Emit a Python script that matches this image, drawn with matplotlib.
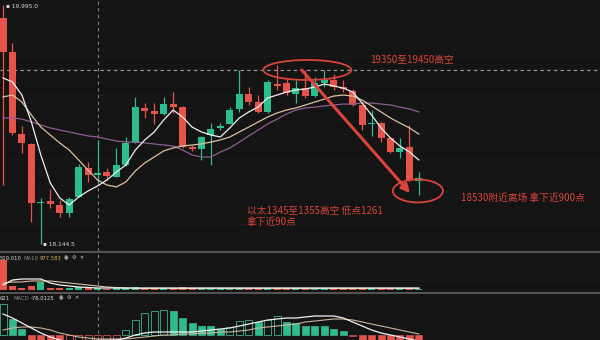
import numpy as np
import matplotlib
matplotlib.use("Agg")
import matplotlib.pyplot as plt
from matplotlib.patches import Ellipse
from matplotlib.lines import Line2D

# ------------------------------------------------------------
# data (price units)
# ------------------------------------------------------------
opens = [19894, 19631, 18996, 18919, 18462, 18477, 18446, 18384, 18508, 18733,
         18679, 18702, 18663, 18756, 18927, 19198, 19174, 19151, 19228, 19205,
         18896, 18880, 18988, 19043, 19074, 19190, 19306, 19244, 19167, 19383,
         19391, 19306, 19352, 19290, 19391, 19414, 19360, 19329, 19221, 19074,
         19081, 18965, 18857, 18896, 18632]
closes = [19631, 19004, 18927, 18462, 18470, 18454, 18384, 18493, 18741, 18679,
          18694, 18671, 18756, 18927, 19205, 19174, 19151, 19228, 19205, 18896,
          18880, 18973, 19035, 19058, 19182, 19306, 19244, 19167, 19399, 19368,
          19314, 19352, 19290, 19391, 19414, 19360, 19345, 19221, 19066, 19081,
          18965, 18857, 18888, 18640, 18656]
highs = [19995, 19701, 19058, 18927, 18501, 18570, 18485, 18508, 18764, 18779,
         18950, 18733, 18888, 18973, 19283, 19236, 19236, 19283, 19321, 19213,
         18911, 18981, 19081, 19081, 19205, 19492, 19360, 19298, 19414, 19530,
         19430, 19414, 19492, 19438, 19492, 19461, 19414, 19345, 19228, 19182,
         19090, 18973, 18965, 19066, 18702]
lows = [18601, 18988, 18849, 18315, 18144.5, 18423, 18354, 18354, 18508, 18625,
        18625, 18640, 18663, 18748, 18927, 19120, 19074, 19143, 19159, 18888,
        18865, 18795, 18756, 19027, 19074, 19167, 19221, 19159, 19159, 19337,
        19298, 19236, 19275, 19283, 19360, 19337, 19321, 19213, 19027, 18981,
        18934, 18849, 18810, 18632, 18524]

ma5 = [19430, 19399, 19298, 19089, 18834, 18617, 18501, 18446, 18508, 18555,
       18594, 18640, 18702, 18756, 18872, 18950, 19012, 19105, 19182, 19128,
       19050, 19012, 18988, 18973, 19043, 19120, 19167, 19205, 19275, 19298,
       19321, 19337, 19345, 19360, 19383, 19368, 19352, 19321, 19236, 19143,
       19043, 18965, 18903, 18857, 18795]
ma10 = [19283, 19298, 19244, 19143, 19050, 18988, 18927, 18872, 18795, 18717,
        18640, 18601, 18586, 18625, 18710, 18772, 18818, 18865, 18888, 18903,
        18911, 18919, 18934, 18950, 18973, 19012, 19050, 19089, 19128, 19159,
        19182, 19198, 19221, 19244, 19267, 19290, 19298, 19290, 19259, 19213,
        19167, 19120, 19081, 19043, 18996]
ma20 = [19120, 19120, 19112, 19089, 19066, 19043, 19027, 19012, 18996, 18981,
        18973, 18957, 18942, 18934, 18934, 18927, 18919, 18911, 18903, 18872,
        18834, 18818, 18818, 18857, 18888, 18934, 18981, 19027, 19074, 19112,
        19151, 19182, 19198, 19205, 19213, 19221, 19228, 19228, 19236, 19236,
        19228, 19221, 19205, 19190, 19167]

volume = [9000, 1200, 600, 1200, 2400, 600, 600, 600, 900, 600,
          600, 450, 600, 750, 900, 450, 450, 600, 450, 900,
          450, 600, 750, 450, 600, 750, 600, 450, 600, 450,
          450, 450, 450, 300, 450, 300, 300, 450, 600, 300,
          450, 450, 300, 750, 450]
vol_ma5 = [1500, 3000, 3300, 3300, 3300, 2100, 1500, 1200, 900, 750,
           600, 600, 600, 600, 600, 600, 600, 600, 600, 600,
           600, 600, 600, 600, 600, 600, 600, 600, 600, 600,
           600, 600, 600, 600, 600, 600, 600, 600, 600, 600,
           600, 600, 600, 600, 600]
vol_ma10 = [2100, 2400, 2400, 2700, 2700, 2700, 2400, 2100, 1800, 1500,
            1200, 900, 750, 600, 450, 450, 450, 450, 450, 450,
            450, 450, 450, 450, 450, 450, 450, 450, 450, 450,
            450, 450, 450, 450, 450, 450, 450, 450, 450, 450,
            450, 450, 450, 450, 450]

macd_hist = [310, 160, 60, -80, -80, -90, -95, -70, -65, -60,
             -55, -50, -40, 50, 150, 220, 240, 250, 240, 170,
             120, 90, 90, 60, 80, 140, 150, 130, 150, 190,
             130, 120, 90, 90, 90, 60, 40, -10, -80, -120,
             -150, -180, -200, -240, -270]
macd_dif = [210, 170, 120, 70, 20, -20, -50, -70, -80, -80,
            -70, -60, -50, -30, 0, 20, 30, 30, 30, 30,
            30, 40, 50, 60, 70, 90, 110, 130, 150, 160,
            170, 170, 180, 190, 190, 190, 170, 130, 90, 50,
            20, 0, -20, -40, -60]
macd_dea = [50, 70, 80, 80, 70, 50, 20, 0, -20, -30,
            -40, -40, -40, -40, -30, -20, -10, 0, 0, 10,
            10, 20, 20, 30, 30, 40, 50, 70, 80, 90,
            100, 110, 130, 140, 150, 160, 160, 150, 130, 110,
            90, 70, 50, 30, 10]

cross_idx = 10
cross_price = 19492

# ------------------------------------------------------------
BG = "#141414"
RED = "#e5534b"
GREEN = "#2bbd8e"
NOTE = "#d9443b"

plt.rcParams['font.family'] = ['Noto Sans CJK SC', 'DejaVu Sans']

W, H = 600, 340
fig = plt.figure(figsize=(6, 3.4), dpi=100, facecolor=BG)


def px_axes(top, bottom):
    a = fig.add_axes([0, 1 - bottom / H, 1, (bottom - top) / H])
    a.set_axis_off()
    a.set_xlim(-0.32, 63.17)
    return a


ax = px_axes(0, 251)
axv = px_axes(252, 291)
axm = px_axes(293, 340)

x = np.arange(len(opens))
o, c, h, l = map(np.array, (opens, closes, highs, lows))
up = c >= o
colors = np.where(up, GREEN, RED)

# --- main price panel ---
ax.set_ylim(18090, 20034)
for p in range(18100, 20100, 100):
    ax.axhline(p, color="#1a1a1a", lw=0.6, zorder=0)

ax.vlines(x, l, h, colors=colors, lw=0.9, zorder=2)
body = np.maximum(np.abs(c - o), 9)
ax.bar(x, body, bottom=np.minimum(o, c), width=0.74, color=colors, lw=0, zorder=3)

ax.plot(x, ma20, color="#8e5c95", lw=0.9, zorder=4)
ax.plot(x, ma10, color="#dcc0a0", lw=0.9, zorder=4)
ax.plot(x, ma5, color="#f0f0f0", lw=0.9, zorder=5)

ax.axhline(cross_price, color="#a0a0a0", lw=0.8, ls=(0, (3, 3)), zorder=1)
for a in (ax, axv, axm):
    a.axvline(cross_idx, color="#808080", lw=0.8, ls=(0, (3, 3)), zorder=1)

imax = int(np.argmax(h))
imin = int(np.argmin(l))
ax.annotate(f"▪ {h[imax]:,.1f}", xy=(imax, h[imax]), xytext=(2, -1), textcoords="offset points",
            fontsize=4.2, color="#d8d8d8", va="center", ha="left", family=["DejaVu Sans"])
ax.annotate(f"▪ {l[imin]:,.1f}", xy=(imin, l[imin]), xytext=(1.5, 0), textcoords="offset points",
            fontsize=4.2, color="#d8d8d8", va="center", ha="left", family=["DejaVu Sans"])

# red markings
ax.add_patch(Ellipse((32.2, 19492), 9.3, 155, fill=False, ec=NOTE, lw=1.3, zorder=6))
ax.add_patch(Ellipse((43.9, 18555), 5.3, 178, fill=False, ec=NOTE, lw=1.3, zorder=6))
ax.annotate("", xy=(43.07, 18539), xytext=(31.6, 19492),
            arrowprops=dict(arrowstyle="-|>", color=NOTE, lw=2.2, mutation_scale=12,
                            shrinkA=0, shrinkB=0), zorder=6)


def ftext(px, py, s, **kw):
    fig.text(px / W, 1 - py / H, s, va="center", ha="left", **kw)


ftext(370, 60, "19350至19450高空", color=NOTE, fontsize=7)
ftext(461, 198, "18530附近离场 拿下近900点", color=NOTE, fontsize=7)
ftext(247, 210.5, "以太1345至1355高空 低点1261", color=NOTE, fontsize=7)
ftext(247, 222.5, "拿下近90点", color=NOTE, fontsize=7)

# --- volume panel ---
axv.set_ylim(-300, 11400)
for v in (3000, 6000, 9000):
    axv.axhline(v, color="#1a1a1a", lw=0.6, zorder=0)
axv.bar(x, volume, width=0.74, color=colors, lw=0, zorder=2)
axv.plot(x, vol_ma10, color="#dcc0a0", lw=0.8, zorder=3)
axv.plot(x, vol_ma5, color="#f0f0f0", lw=0.9, zorder=4)

leg = dict(fontsize=3.8, family=["DejaVu Sans"])
ftext(0, 258, "519.010", color="#d8d8d8", **leg)
ftext(23, 258, "MA10", color="#8a8a8a", **leg)
ftext(40, 258, "977.583", color="#d9b25a", **leg)
ftext(64, 258, "◉  ⚙  ✕", color="#c8c8c8", **leg)

# --- MACD panel ---
axm.set_ylim(-50, 420)
for v in (100, 200, 300):
    axm.axhline(v, color="#1a1a1a", lw=0.6, zorder=0)
hist = np.array(macd_hist)
rising = np.diff(hist, prepend=hist[0] - 1) > 0
pos = hist >= 0
edge = np.where(pos, "#3a9c7c", "#b24a44")
face = np.where(rising, "none", np.where(pos, GREEN, RED))
axm.bar(x, hist, width=0.74, color=face, edgecolor=edge, lw=0.7, zorder=2)
axm.plot(x, macd_dea, color="#c9b59a", lw=0.8, zorder=3)
axm.plot(x, macd_dif, color="#f0f0f0", lw=0.9, zorder=4)

ftext(0, 298, "621", color="#d8d8d8", **leg)
ftext(13, 298, "MACD", color="#8a8a8a", **leg)
ftext(31, 298, "-76.0125", color="#e0e0e0", **leg)
ftext(59, 298, "◉  ⚙  ✕", color="#c8c8c8", **leg)

# panel separators
for py in (251.5, 292.5):
    fig.add_artist(Line2D([0, 1], [1 - py / H] * 2, color="#555555", lw=1.4))

fig.savefig("out.png", dpi=100, facecolor=BG)
